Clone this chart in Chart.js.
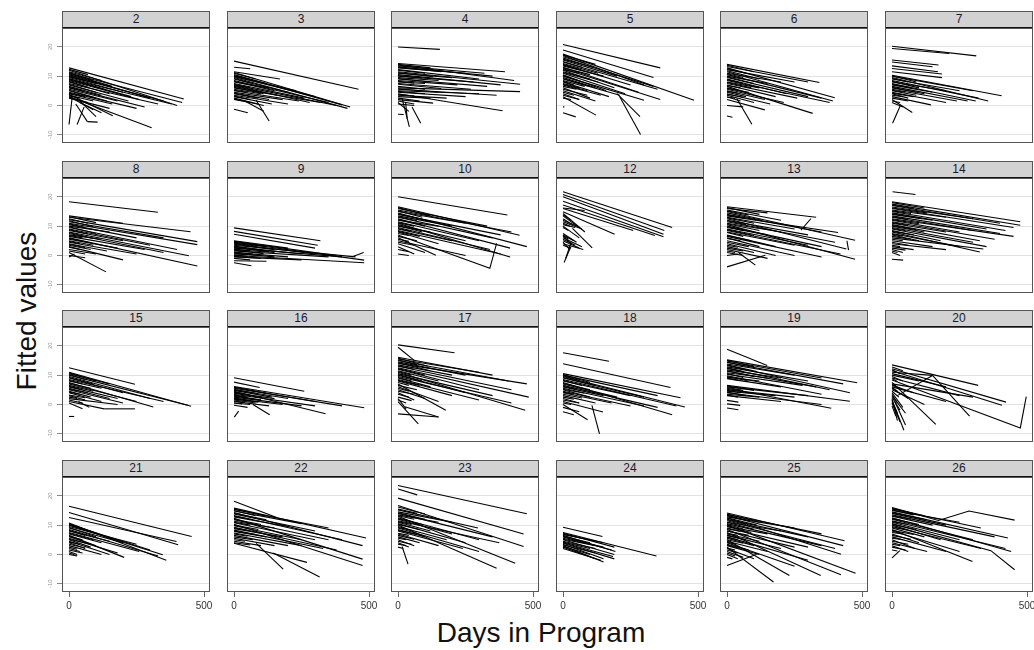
<!DOCTYPE html>
<html>
<head>
<meta charset="utf-8">
<script src="https://cdn.jsdelivr.net/npm/chart.js@4.4.1/dist/chart.umd.min.js"></script>
<style>
  body { margin: 0; background: #fff; width: 1034px; height: 650px; position: relative; overflow: hidden;
         font-family: Arial, "Liberation Sans", sans-serif; }
  .strip { position: absolute; box-sizing: border-box; background: #d2d2d2; border: 1px solid #555;
           border-bottom: 2px solid #111; font-size: 12px; color: #1a1a2a; text-align: center; line-height: 15px; }
  .frame { position: absolute; box-sizing: border-box; border: 1px solid #555; pointer-events: none; }
  canvas { position: absolute; }
  #ytitle { position: absolute; left: 27px; top: 311px; transform: translate(-50%, -50%) rotate(-90deg);
            font-size: 28px; white-space: nowrap; color: #111; }
  #xtitle { position: absolute; left: 541px; top: 633px; transform: translate(-50%, -50%);
            font-size: 28px; white-space: nowrap; color: #111; }
</style>
</head>
<body>
<div id="ytitle">Fitted values</div>
<div id="xtitle">Days in Program</div>
<script>
const panelIds = [2, 3, 4, 5, 6, 7, 8, 9, 10, 12, 13, 14, 15, 16, 17, 18, 19, 20, 21, 22, 23, 24, 25, 26];
const yTicks = [-10, 0, 10, 20];
const xTicks = [0, 500];
const xRange = [-26, 522];
const yRange = [-12.8, 26.4];

// each entry is one subject's fitted line: x0,y0, x1,y1 (, x2,y2 ...)
const g2 = [
  [0,12.8,425,2.2],[0,12,400,0],[0,11.5,120,8.5],[0,11,419,1],[0,10.5,300,2.5],[0,10,350,1.5],
  [0,9.8,100,7.5],[0,9.5,200,4.5],[0,9,380,0.5],[0,8.5,260,2],[0,8,150,4],[0,7.5,330,0.5],
  [0,7,220,1.5],[0,6.5,120,3.5],[0,6,280,-0.5],[0,5.5,180,1.5],[0,5,100,2.5],[0,4.5,250,-1],
  [0,4,160,0.5],[0,3.8,162,-3.5],[0,3.5,90,1.5],[0,3,306,-7.6],[0,2.5,150,-1],
  [12,3,0,-6.5],[30,-6.5,56,-0.5],[25,0.5,68,-5.5],[68,-5.5,106,-5.7],[37,1.8,100,-3.8],
  [20,2,90,-1.5],[40,1,120,-2.5],
  [0,12.3,70,10.5],[0,11.2,90,8.5],[0,10.2,60,8.5],[0,9.2,130,5.5],[0,8.2,70,6.2],[0,7.2,100,4.5],
  [0,6.2,50,5],[0,5.2,140,1.5],[0,4.2,60,3],[0,3.2,40,2.5],[0,2.8,70,1],[0,10.8,160,6.5],[0,8.8,230,3]
];
const g3 = [
  [0,15.1,461,5.5],[0,13,60,12.5],[0,11.5,170,9],[0,11.2,430,-0.5],[0,10.5,400,0.2],[0,10,300,3],
  [0,9.5,420,-1],[0,9,200,4.5],[0,8.5,350,1],[0,8,130,6],[0,7.5,260,2.5],[0,7,380,0],
  [0,6.5,160,3.5],[0,6,320,1],[0,5.5,100,4],[0,5,240,1.5],[0,4.5,180,2],[0,4,90,2.5],
  [0,3.5,200,0.5],[0,3,140,0.5],[0,2.5,90,0.5],[0,2,60,1],[82,1.8,130,-5.3],[40,1.5,110,-2],
  [0,-1.3,51,-2.5],
  [0,11,80,9],[0,10.2,120,7.5],[0,9.2,70,7.5],[0,8.2,150,5],[0,7.2,60,6],[0,6.2,110,4],
  [0,5.2,50,4.5],[0,4.2,130,2],[0,3.2,60,2],[0,2.2,110,0],[0,9.8,230,5],[0,6.8,280,1]
];
const g4 = [
  [0,19.9,155,19.1],[0,14.3,396,11.5],[0,13.8,430,8.5],[0,13.2,350,10],[0,12.8,250,11],[0,12.2,300,9],
  [0,11.5,452,7.2],[0,11,200,9.5],[0,10.5,380,7],[0,10,280,8],[0,9.5,150,8.5],[0,9,330,6.5],
  [0,8.5,220,7],[0,8,100,7.5],[0,7.5,270,5.5],[0,6,452,4.7],[0,5.5,365,3.5],[0,5,300,4],
  [0,4.5,250,3],[0,4,387,-1.8],[0,3.5,180,2.5],[0,3,120,2.5],[0,2.5,80,1.5],[0,1.5,60,0.5],
  [0,0.5,60,0],[15,2.4,42,-7.3],[52,-0.5,84,-6.1],[28,1.2,34,-4.5],[0,-3,21,-3.1],[0,1,40,-2],
  [0,14,120,12.8],[0,13,160,11.5],[0,12,100,11],[0,11.2,130,9.8],[0,10.2,90,9.3],[0,9.2,120,8],
  [0,8.2,60,7.6],[0,7.2,160,5.8],[0,6.5,100,5.5],[0,5.7,150,4.5],[0,4.8,100,4],[0,3.8,60,3.2],
  [0,2,130,0.8],[0,13.5,320,11]
];
const g5 = [
  [0,20.8,360,12.8],[0,18.9,335,9.5],[0,17.5,485,1.8],[0,17,300,7],[0,16.2,335,6.5],[0,15.5,200,10],
  [0,14.8,350,5.5],[0,14,250,7],[0,13.5,150,10],[0,13,280,4.5],[0,12.5,360,2],[0,12,190,6],
  [0,11.5,100,9],[0,11,230,4],[0,10.5,160,5],[0,10,300,1.8],[0,9.5,120,6],[0,9,210,3.5],
  [0,8.5,80,6.5],[0,8,170,3],[0,7.5,60,6],[0,7,140,3.5],[0,6,100,2.5],[0,5,120,1.5],
  [0,4,60,2],[0,3,122,-3.3],[210,3,287,-9.9],[200,4,285,-3.8],[0,-2.5,47,-3.9],[0,-0.5,5,-0.5],
  [0,17.2,120,14],[0,16.6,80,14.5],[0,15.8,110,13],[0,15,70,13],[0,14.3,130,11],[0,13.8,60,12.3],
  [0,12.8,100,10.5],[0,12.2,60,11],[0,11.2,130,8],[0,10.2,70,8],[0,9.2,100,6.5],[0,8.2,40,7],
  [0,7.2,90,5],[0,6.5,50,5.5],[0,5.5,90,3.5],[0,4.5,40,3.5],[0,3.5,60,2],[0,2.5,30,2]
];
const g6 = [
  [0,14,342,7.8],[0,13.3,300,8],[0,12.8,399,2.6],[0,12.2,250,8],[0,11.5,392,1.5],[0,11,200,8],
  [0,10.5,350,2.5],[0,10,150,7.5],[0,9.5,300,3],[0,9,220,4],[0,8.5,380,1],[0,8,120,6],
  [0,7.5,260,2.5],[0,7,180,3],[0,6.5,317,-2.7],[0,6,90,4],[0,5.5,210,1],[0,5,140,2],
  [0,4.5,70,3],[0,4,160,0.5],[0,3.5,100,1],[0,3,50,1.5],[0,2,140,-1.5],[36,2.4,92,-6.4],
  [0,0,60,-0.5],[0,-3.6,20,-4],
  [0,13.7,100,11.5],[0,12.5,70,11],[0,11.8,120,9],[0,10.8,60,9.5],[0,9.8,100,7.5],[0,8.8,60,7.5],
  [0,7.8,90,6],[0,6.8,50,6],[0,5.8,80,4.5],[0,4.8,40,4.2],[0,3.8,60,2.8],[0,2.8,30,2.5]
];
const g7 = [
  [0,20.2,312,16.9],[0,19.4,212,17.7],[0,15.5,172,13.8],[0,14.8,150,13.2],[0,12.6,185,10.7],[0,11.5,185,9.5],
  [0,10.3,406,3.3],[0,10,300,5],[0,9.5,356,1.5],[0,9,250,5],[0,8.5,320,2.5],[0,8,200,5],
  [0,7.5,310,1.5],[0,7,150,4.5],[0,6.5,280,1.5],[0,6,120,4],[0,5.5,240,1.5],[0,5,90,3.5],
  [0,4.5,200,1],[0,4,60,2.5],[0,3,144,0.2],[0,2,75,-2.4],[0,1,40,-0.5],[31,0,2,-6.1],
  [0,10.1,90,8],[0,9.2,60,8],[0,8.2,100,6],[0,7.2,70,6],[0,6.2,90,4.5],[0,5.2,50,4.5],
  [0,4.2,80,3],[0,3.5,40,3],[0,2.5,60,1.5],[0,1.5,30,1],[0,13.5,170,11.5]
];
const g8 = [
  [0,18.3,329,14.7],[0,13.5,200,11],[0,13,450,8.1],[0,12.2,475,4.7],[0,11.5,350,6],[0,11,475,3.7],
  [0,10.5,250,6],[0,10,150,8],[0,9.5,400,2],[0,9,300,3.5],[0,8.5,200,5],[0,8,444,-0.1],
  [0,7.5,350,1],[0,7,120,5.5],[0,6.5,280,2],[0,6,475,-3.6],[0,5.5,180,2.5],[0,5,90,3.5],
  [0,4.5,250,0.5],[0,4,140,1.5],[0,3.5,80,2],[0,3,200,-1.5],[0,2,100,0.5],[0,1,137,-5.6],
  [0,0,60,-0.8],[0,-0.5,20,0.5],
  [0,13.2,100,11.2],[0,12.5,70,11],[0,11.8,90,9.8],[0,10.8,60,9.5],[0,9.8,100,7.5],[0,8.8,70,7.3],
  [0,7.8,90,5.8],[0,6.8,50,6],[0,5.8,80,4.3],[0,4.8,40,4],[0,3.8,60,2.6],[0,2.8,40,2],[0,1.5,60,0.5]
];
const g9 = [
  [0,9.4,320,5],[0,8.2,310,3.5],[0,7.2,300,2.5],[0,5,200,2.5],[0,4.8,380,0],[0,4.5,482,-1.6],
  [0,4,300,0.5],[0,3.5,450,-0.5],[0,3,250,0.5],[0,2.5,400,-0.5],[0,2,150,1],[0,1.5,350,-0.5],
  [0,1,200,-0.5],[0,0.5,100,0],[0,0,482,-2.5],[0,-0.5,250,-1.5],[0,-1,60,-1.5],[0,-2.5,64,-3.5],
  [435,-0.5,480,1],[0,-1.8,120,-2],
  [0,4.6,120,3],[0,4.2,80,3.2],[0,3.8,150,2],[0,3.2,90,2],[0,2.8,130,1.3],[0,2.2,60,1.5],
  [0,1.8,110,0.6],[0,1.2,70,0.5],[0,0.8,150,-0.5],[0,0.2,50,-0.3],[0,-0.3,100,-1]
];
const g10 = [
  [0,20,405,13.8],[0,16.6,450,6.9],[0,16,330,10],[0,15.5,420,8],[0,15,250,11],[0,14.5,477,3],
  [0,14,380,7],[0,13.5,200,10],[0,13,350,6],[0,12.5,415,2.5],[0,12,150,10],[0,11.5,300,5],
  [0,11,415,-0.5],[0,10.5,250,5],[0,10,120,8],[0,9.5,340,2],[0,9,200,5],[0,8.5,380,0.5],
  [0,8,150,4],[0,7,340,-4.4,365,4.1],[0,6,140,0.1],[0,5,250,0],[0,4,100,1],[0,3,60,0.5],
  [0,0.5,40,0],
  [0,16.3,120,13.5],[0,15.2,90,13],[0,14.2,130,11.5],[0,13.2,70,11.8],[0,12.2,100,10],[0,11.2,60,10],
  [0,10.2,90,8],[0,9.2,50,8.2],[0,8.2,80,6.5],[0,7.5,40,6.8],[0,6.5,70,5],[0,5.5,40,4.8],
  [0,4.5,60,3.5],[0,2,40,1.3]
];
const g12 = [
  [0,21.7,404,9.5],[0,20.8,375,8.5],[0,20,372,7.2],[0,18.5,372,6.4],[0,17.2,340,6.8],[0,16,260,8.5],
  [0,14.9,191,7.2],[0,16.2,80,15.3],[0,14.3,81,8],[0,13.5,60,9.5],[0,12.5,35,10.5],[0,11.5,70,9],
  [0,10.5,45,9.5],[35,9.2,108,2.6],[0,10,60,6],[0,7.5,50,4.5],[0,6.5,30,4],[0,6,70,3],
  [0,5,60,2.5],[0,4.5,25,2],[0,4,75,2],[4,-2.4,29,3],[10,-1,30,4.5],
  [0,13.8,30,12],[0,12,50,10],[0,11,25,10],[0,9.5,20,8.5],[0,7,40,5],[0,6.8,20,5.5],
  [0,5.5,45,3.5],[0,3.5,30,2.5]
];
const g13 = [
  [0,16.6,330,13],[0,16,150,14.5],[0,15.5,200,12],[0,15,474,5.2],[0,14,350,8],[0,13.5,411,7.8],
  [0,13,250,9],[0,12.5,442,2.2],[0,12,300,7],[0,11.5,400,4.5],[0,11,200,8],[0,10.5,474,-1.3],
  [0,10,350,3],[0,9.5,150,7],[0,9,300,3.5],[0,8.5,420,0.5],[0,8,250,3.5],[0,7,180,3],
  [0,6.5,350,-0.5],[0,6,120,3],[0,5,250,0],[0,4,180,0],[0,3,100,1],[0,2,150,-1],
  [0,1,60,0],[0,0,40,0.5],[0,-3.9,142,0.1],[42,1,105,-3.3],[274,8.6,311,12.6],[444,5,450,1.8],
  [0,16.3,120,14],[0,15.2,80,13.8],[0,14.5,130,12],[0,13.8,60,12.8],[0,12.8,100,11],[0,11.8,70,10.5],
  [0,10.8,120,8.5],[0,9.8,60,8.5],[0,8.8,100,6.8],[0,7.8,60,6.5],[0,6.8,90,5],[0,5.8,50,5],
  [0,4.5,80,3],[0,3.5,40,2.8],[0,2.5,60,1.5],[0,1.5,30,1]
];
const g14 = [
  [0,18.3,475,11.5],[0,17.5,475,10.3],[0,17,400,11],[0,16.5,300,12.5],[0,16,450,9.5],[0,15.5,200,13],
  [0,15,420,8.5],[0,14.5,350,9],[0,14,150,12],[0,13.5,400,7.5],[0,13,300,8.5],[0,12.5,450,6.5],
  [0,12,250,8],[0,11.5,380,5.5],[0,11,200,8],[0,10.5,325,5],[0,10,120,8],[0,9.5,300,4.5],
  [0,9,350,3],[0,8.5,180,5],[0,8,325,1.2],[0,7.5,250,3],[0,7,100,5],[0,6,338,2.2],
  [0,5,150,3],[0,4,200,2],[0,3,80,2],[0,2,40,1],[0,1,30,0],[0,-1.3,41,-1.6],[2,21.7,87,20.8],
  [0,18,120,16.2],[0,17.2,80,16],[0,16.2,130,14.5],[0,15.2,70,14.3],[0,14.2,110,12.5],[0,13.2,60,12.3],
  [0,12.2,100,10.8],[0,11.2,60,10.3],[0,10.2,90,8.8],[0,9.2,50,8.5],[0,8.2,80,7],[0,7.2,40,6.6],
  [0,6.5,70,5.5],[0,5.5,40,5],[0,4.5,60,3.5],[0,3.5,30,3],[0,2.5,50,1.8],[0,1.5,20,1]
];
const g15 = [
  [0,12.5,244,6.9],[0,11,452,-0.6],[0,10.5,150,7],[0,10,440,-0.3],[0,9.5,300,2],[0,9,200,4],
  [0,8.5,350,1],[0,8,120,5.5],[0,7.5,312,-0.9],[0,7,250,1],[0,6.5,90,4.5],[0,6,180,2],
  [0,5.5,150,2],[0,5,200,0.5],[0,4.5,80,2.5],[0,4,120,1],[0,3,60,1.5],[0,2,180,0],
  [0,1,130,-1.5],[130,-1.5,244,-1.5],[0,0.5,50,-1.5],[0,-4.1,19,-4.1],[35,1,75,-1],
  [0,10.8,100,8],[0,10.2,60,8.5],[0,9.2,90,7],[0,8.2,50,7],[0,7.2,80,5.5],[0,6.2,50,5],
  [0,5.2,70,4],[0,4.2,40,3.5],[0,3.2,60,2.3],[0,2.5,30,2],[0,1.5,50,0.5]
];
const g16 = [
  [0,9.1,260,4.5],[0,7.6,95,5.8],[0,6.1,482,-1.1],[0,5.8,300,1],[0,5.5,400,-0.5],[0,5,200,2],
  [0,4.5,339,-3.2],[0,4,150,2],[0,3.5,300,-0.5],[0,3,100,1.5],[0,2.5,250,-0.5],[0,2,180,0],
  [0,1.5,80,0.5],[0,1,130,-0.5],[0,0.5,60,0],[0,-0.3,50,-1],[70,0,132,-3.5],[1,-4.3,17,-2.3],
  [0,5.9,120,3.8],[0,5.2,80,3.8],[0,4.8,140,2.5],[0,4.2,60,3.2],[0,3.8,110,2.2],[0,3.2,50,2.5],
  [0,2.8,100,1.5],[0,2.2,60,1.3],[0,1.8,90,0.8],[0,1.2,40,0.7],[0,0.5,30,0.2]
];
const g17 = [
  [0,20.3,209,17.6],[0,19.5,60,15],[0,16.1,350,10],[0,15.5,300,11],[0,15,409,8],[0,14.5,250,10],
  [0,14,477,7],[0,13.5,200,10],[0,13,420,5],[0,12.5,484,2.5],[0,12,300,5],[0,11.5,150,8],
  [0,11,471,-2],[0,10.5,350,3],[0,10,250,4],[0,9.5,420,0.5],[0,9,120,6],[0,8.5,300,1.5],
  [0,8,200,3],[0,7,177,-2],[0,6,150,1],[0,5,100,2],[0,4,60,1.5],[0,1,75,-6.6],
  [0,-3.2,150,-4.3],[25,-0.8,150,-4.3],[0,2,30,-1.5],
  [0,15.8,110,13],[0,15.2,70,13.5],[0,14.2,120,11.5],[0,13.2,60,12],[0,12.2,100,10],[0,11.2,50,10],
  [0,10.2,90,8],[0,9.2,50,8],[0,8.2,80,6.5],[0,7.5,40,6.5],[0,6.5,70,5],[0,5.5,40,4.5],
  [0,4.5,60,3.5],[0,3.5,40,2.5],[0,2.5,50,1.3],[0,1.5,30,0.5]
];
const g18 = [
  [0,17.6,170,14.7],[0,13.9,398,5.8],[0,10.5,435,2.3],[0,10,350,3],[0,9.5,451,-0.9],[0,9,300,2.5],
  [0,8.5,420,-0.5],[0,8,250,3],[0,7.5,404,-3.5],[0,7,200,2.5],[0,6.5,350,-1],[0,6,150,3],
  [0,5.5,300,-0.5],[0,5,100,2.5],[0,4.5,250,-0.5],[0,4,180,0.5],[0,3,120,0.5],[0,2,60,0.5],
  [0,1,148,-2.6],[0,0,91,-5.2],[0,-1,60,-2.5],[0,-2.5,40,-3.5],[107,-0.3,135,-10],
  [0,10.2,100,7.5],[0,9.8,60,8.2],[0,9.2,120,6.5],[0,8.2,70,6.5],[0,7.2,100,5],[0,6.2,50,5.2],
  [0,5.2,80,3.8],[0,4.2,40,3.5],[0,3.5,70,2.2],[0,2.5,40,1.8],[0,1.5,60,0.5],[0,0.5,30,0]
];
const g19 = [
  [0,18.8,149,13.3],[0,15.2,482,7.4],[0,14.8,350,9],[0,14.3,430,7],[0,13.8,250,10],[0,13.3,455,4],
  [0,12.8,300,8],[0,12.3,380,5],[0,11.8,200,9],[0,11.3,330,6],[0,10.8,150,9],[0,10.3,280,6.5],
  [0,9.8,350,3.5],[0,9.3,120,8],[0,8.8,200,6],[0,6.5,455,1.1],[0,6,300,3],[0,5.5,386,-1.3],
  [0,5,250,2.5],[0,4.5,180,3],[0,4,350,0],[0,3.5,120,2.5],[0,3,200,1],[0,1.4,42,0.8],
  [0,0.2,49,-0.3],[0,-1.2,42,-1.8],
  [0,15,100,12.8],[0,14.5,70,13],[0,13.5,110,11.2],[0,12.5,60,11.2],[0,11.5,100,9.5],[0,10.5,60,9.2],
  [0,9.5,80,8],[0,9,40,8.3],[0,6.3,100,4.8],[0,5.8,60,4.8],[0,5.2,90,3.8],[0,4.8,50,4],
  [0,4.2,70,3],[0,3.2,40,2.5]
];
const g20 = [
  [0,13.5,319,6.5],[0,12.2,422,0.8],[0,11.5,407,-0.3],[0,11,150,9.9],[150,9.9,287,-4],[150,9.9,20,3],
  [0,10.5,200,6],[0,10,100,8],[0,9,250,3],[0,8.3,475,-8,497,2.7],[0,7.5,162,-6.8],[0,7,300,2.5],
  [0,6.5,80,4],[0,6,200,1],[0,5.5,60,2],[0,5,120,0],[0,4,40,-1],[0,3,50,-3],
  [0,2,20,-5.5],[0,1.5,44,-8.8],[0,0.5,30,-6],[0,-0.5,14,-4],[10,1,50,-7],
  [0,12.8,40,11.5],[0,11.8,30,10.5],[0,9.5,40,8],[0,8.8,20,7.8],[0,6.8,30,5.5],[0,5.8,20,4.5],
  [0,4.5,25,2.5],[0,3.5,20,0.5],[0,2.5,30,-2],[0,1,20,-3]
];
const g21 = [
  [0,16.4,454,6.1],[0,14.3,404,3.3],[0,12.6,398,4.4],[0,10.7,360,-2],[0,10.3,300,1.5],[0,10,347,-0.1],
  [0,9.5,250,3.5],[0,9,200,4],[0,8.5,330,-0.5],[0,8,150,4.5],[0,7.5,260,1],[0,7,120,4],
  [0,6.5,204,-1],[0,6,100,3],[0,5.5,180,0.5],[0,5,80,2.5],[0,4.5,150,0],[0,4,60,2],
  [0,3,120,0],[0,2,40,1],[0,1,30,0],[0,0,30,-0.5],
  [0,10.5,110,7],[0,10.1,70,8],[0,9.2,100,6],[0,8.2,60,6.5],[0,7.2,90,5],[0,6.2,50,5],
  [0,5.2,80,3.5],[0,4.2,40,3.5],[0,3.5,60,2.2],[0,2.5,30,1.8],[0,1.5,50,0.5],[0,0.5,20,0]
];
const g22 = [
  [0,18.1,158,12.6],[0,15.8,489,5.6],[0,15.3,350,9],[0,14.8,250,10.5],[0,14.3,476,3],[0,13.8,300,8],
  [0,13.3,400,5],[0,12.8,200,9.5],[0,12.3,476,-1.6],[0,11.8,350,5],[0,11.3,150,9],[0,10.8,300,5],
  [0,10.3,476,-3.8],[0,9.8,250,5],[0,9.3,380,1.5],[0,8.8,180,6],[0,8.3,330,2],[0,7.8,120,6],
  [0,7.3,250,3],[0,6.5,200,3],[0,5.5,150,3],[0,4.5,100,3],[0,3.8,270,-2.7],[82,3.8,182,-5],
  [145,0.5,317,-7.7],
  [0,15.5,120,13],[0,15,80,13.2],[0,14,120,11.8],[0,13,70,11.8],[0,12,100,10.2],[0,11,60,10],
  [0,10,90,8.5],[0,9,50,8.2],[0,8,80,6.8],[0,7,50,6.2],[0,6,70,5],[0,5,40,4.5],[0,4,60,3.2]
];
const g23 = [
  [0,23.5,477,13.9],[0,22.3,71,20.3],[0,19.2,465,7],[0,16.7,465,2.7],[0,15.2,296,9],[0,14.5,200,11],
  [0,14,350,6],[0,13.5,150,11],[0,13,434,-3],[0,12.5,300,5],[0,12,200,7],[0,11.5,375,4],
  [0,11,120,8],[0,10.5,250,4],[0,10,365,-4.7],[0,9.5,180,5],[0,9,300,1],[0,8.5,100,6],
  [0,8,240,2],[0,7,150,3],[0,6,80,4],[0,5,60,3],[0,4,40,2.5],[15,2.7,37,-3.3],
  [0,16.2,100,13.8],[0,15.5,70,14],[0,14.2,100,12],[0,13.2,60,12],[0,12.2,90,10.2],[0,11.2,50,10.2],
  [0,10.2,80,8.5],[0,9.2,50,8.2],[0,8.2,70,6.8],[0,7.2,40,6.5],[0,6.5,60,5.2],[0,5.5,30,5],
  [0,4.5,50,3.5],[0,3.5,30,3],[0,2.5,20,2]
];
const g24 = [
  [0,9.3,146,6.1],[0,7.5,346,-0.5],[0,7.2,190,2.5],[0,6.8,150,4],[0,6.5,194,1],[0,6,180,1.5],
  [0,5.5,150,2.5],[0,5,190,0],[0,4.5,120,2],[0,4,185,-0.7],[0,3.5,150,-1.5],[0,3,150,-2.6],
  [0,2.5,120,-1.5],[0,2,140,-2],
  [0,7,120,4.5],[0,6.2,100,4],[0,5.2,120,3],[0,4.2,100,2],[0,3.2,120,0.5],[0,2.8,100,0],[0,3.8,190,-1.5]
];
const g25 = [
  [0,14.1,435,4.7],[0,13.6,350,7],[0,13.2,430,3],[0,12.8,250,9],[0,12.4,422,0.1],[0,12,300,6],
  [0,11.5,400,2],[0,11,200,8],[0,10.5,350,3],[0,10,476,-6.4],[0,9.5,150,7],[0,9,300,2.5],
  [0,8.5,422,-6.9],[0,8,250,2.5],[0,7.5,347,-7.2],[0,7,120,4.5],[0,6.5,200,2],[0,6,300,-2],
  [0,5.5,100,3],[0,5,231,-7.2],[0,4.5,150,1],[0,4,250,-4],[0,3.5,80,1.5],[0,3,120,0],
  [0,2.5,172,-9.4],[0,2,100,-1.5],[0,1,60,-1],[0,0,40,-1.5],[0,-3.8,110,0.1],
  [0,13.8,120,11],[0,13.4,80,11.5],[0,12.5,110,10],[0,11.8,70,10.2],[0,11,100,8.6],[0,10.2,60,8.7],
  [0,9.5,90,7.5],[0,8.8,50,7.8],[0,8,80,6.5],[0,7.2,40,6.5],[0,6.5,70,5],[0,5.8,40,5],
  [0,5,60,3.8],[0,4.2,30,3.5],[0,3.2,50,2],[0,2.2,30,1.5],[0,1.5,40,0.5],[0,0.5,30,-0.5],[0,-1,20,-1.5]
];
const g26 = [
  [0,16,172,11.6,285,14.8,454,11.7],[0,15.5,329,9],[0,15,250,11],[0,14.5,429,5.6],[0,14,200,10],[0,13.5,380,6],
  [0,13,150,10],[0,12.5,441,1],[0,12,300,5],[0,11.5,420,2],[0,11,250,5],[0,10.5,366,1.3,454,-5.2],
  [0,10,180,5],[0,9.5,330,2],[0,9,120,6],[0,8.5,298,-2.4],[0,8,250,1],[0,7,100,4],
  [0,6,200,1],[0,5,85,2],[0,4,130,1],[0,3,60,1],[0,-1.2,29,1.3],
  [0,15.7,120,13.2],[0,15.2,80,13.5],[0,14.2,120,12],[0,13.2,70,12],[0,12.2,100,10.2],[0,11.2,60,10.2],
  [0,10.2,90,8.5],[0,9.2,50,8.5],[0,8.2,80,6.8],[0,7.5,40,7],[0,6.5,70,5.2],[0,5.5,40,5],
  [0,4.5,60,3.5],[0,3.5,30,3],[0,2.5,50,1.5],[0,1.5,20,1.2]
];

const groups = [g2, g3, g4, g5, g6, g7, g8, g9, g10, g12, g13, g14,
                g15, g16, g17, g18, g19, g20, g21, g22, g23, g24, g25, g26];

Chart.defaults.font.family = 'Arial, "Liberation Sans", sans-serif';

// panel geometry (pixels)
const COLS = 6, PW = 148, PH = 115, YW = 16, XH = 24, PADT = 10, PADR = 10;

function toPoints(row) {
    const pts = [];
    for (let k = 0; k < row.length; k += 2) {
        pts.push({ x: row[k], y: row[k + 1] });
    }
    return pts;
}

panelIds.forEach(function (id, i) {
    const r = Math.floor(i / COLS);
    const c = i % COLS;
    const left = 62 + Math.round(c * 164.6);
    const top = 28 + Math.round(r * 149.6);

    const strip = document.createElement('div');
    strip.className = 'strip';
    strip.style.left = left + 'px';
    strip.style.top = (top - 17) + 'px';
    strip.style.width = PW + 'px';
    strip.style.height = '18px';
    strip.textContent = id;
    document.body.appendChild(strip);

    const cv = document.createElement('canvas');
    cv.width = YW + PW + PADR;
    cv.height = PADT + PH + XH;
    cv.style.left = (left - YW) + 'px';
    cv.style.top = (top - PADT) + 'px';
    document.body.appendChild(cv);

    const frame = document.createElement('div');
    frame.className = 'frame';
    frame.style.left = left + 'px';
    frame.style.top = top + 'px';
    frame.style.width = PW + 'px';
    frame.style.height = PH + 'px';
    document.body.appendChild(frame);

    const datasets = groups[i].map(function (row) {
        return {
            data: toPoints(row),
            showLine: true,
            borderColor: '#000',
            borderWidth: 1.1,
            pointRadius: 0,
            fill: false
        };
    });

    new Chart(cv.getContext('2d'), {
        type: 'scatter',
        data: { datasets: datasets },
        options: {
            responsive: false,
            animation: false,
            devicePixelRatio: 1,
            events: [],
            layout: { padding: { top: PADT, right: PADR, left: 0, bottom: 0 } },
            plugins: { legend: { display: false }, tooltip: { enabled: false } },
            scales: {
                x: {
                    type: 'linear',
                    min: xRange[0],
                    max: xRange[1],
                    afterBuildTicks: s => { s.ticks = xTicks.map(v => ({ value: v })); },
                    afterFit: s => { s.height = XH; },
                    border: { display: false },
                    grid: { display: r === 3, drawOnChartArea: false, drawTicks: true, tickLength: 5, color: '#666' },
                    ticks: { display: r === 3, autoSkip: false, maxRotation: 0, padding: 3, color: '#333', font: { size: 10 } }
                },
                y: {
                    type: 'linear',
                    min: yRange[0],
                    max: yRange[1],
                    afterBuildTicks: s => { s.ticks = yTicks.map(v => ({ value: v })); },
                    afterFit: s => { s.width = YW; },
                    border: { display: false },
                    grid: { color: '#e2e2e2', drawTicks: c === 0, tickLength: 5, tickColor: '#888' },
                    ticks: { display: c === 0, autoSkip: false, minRotation: 90, maxRotation: 90, crossAlign: 'center',
                             padding: 2, color: '#999', font: { size: 6 } }
                }
            }
        }
    });
});
</script>
</body>
</html>
